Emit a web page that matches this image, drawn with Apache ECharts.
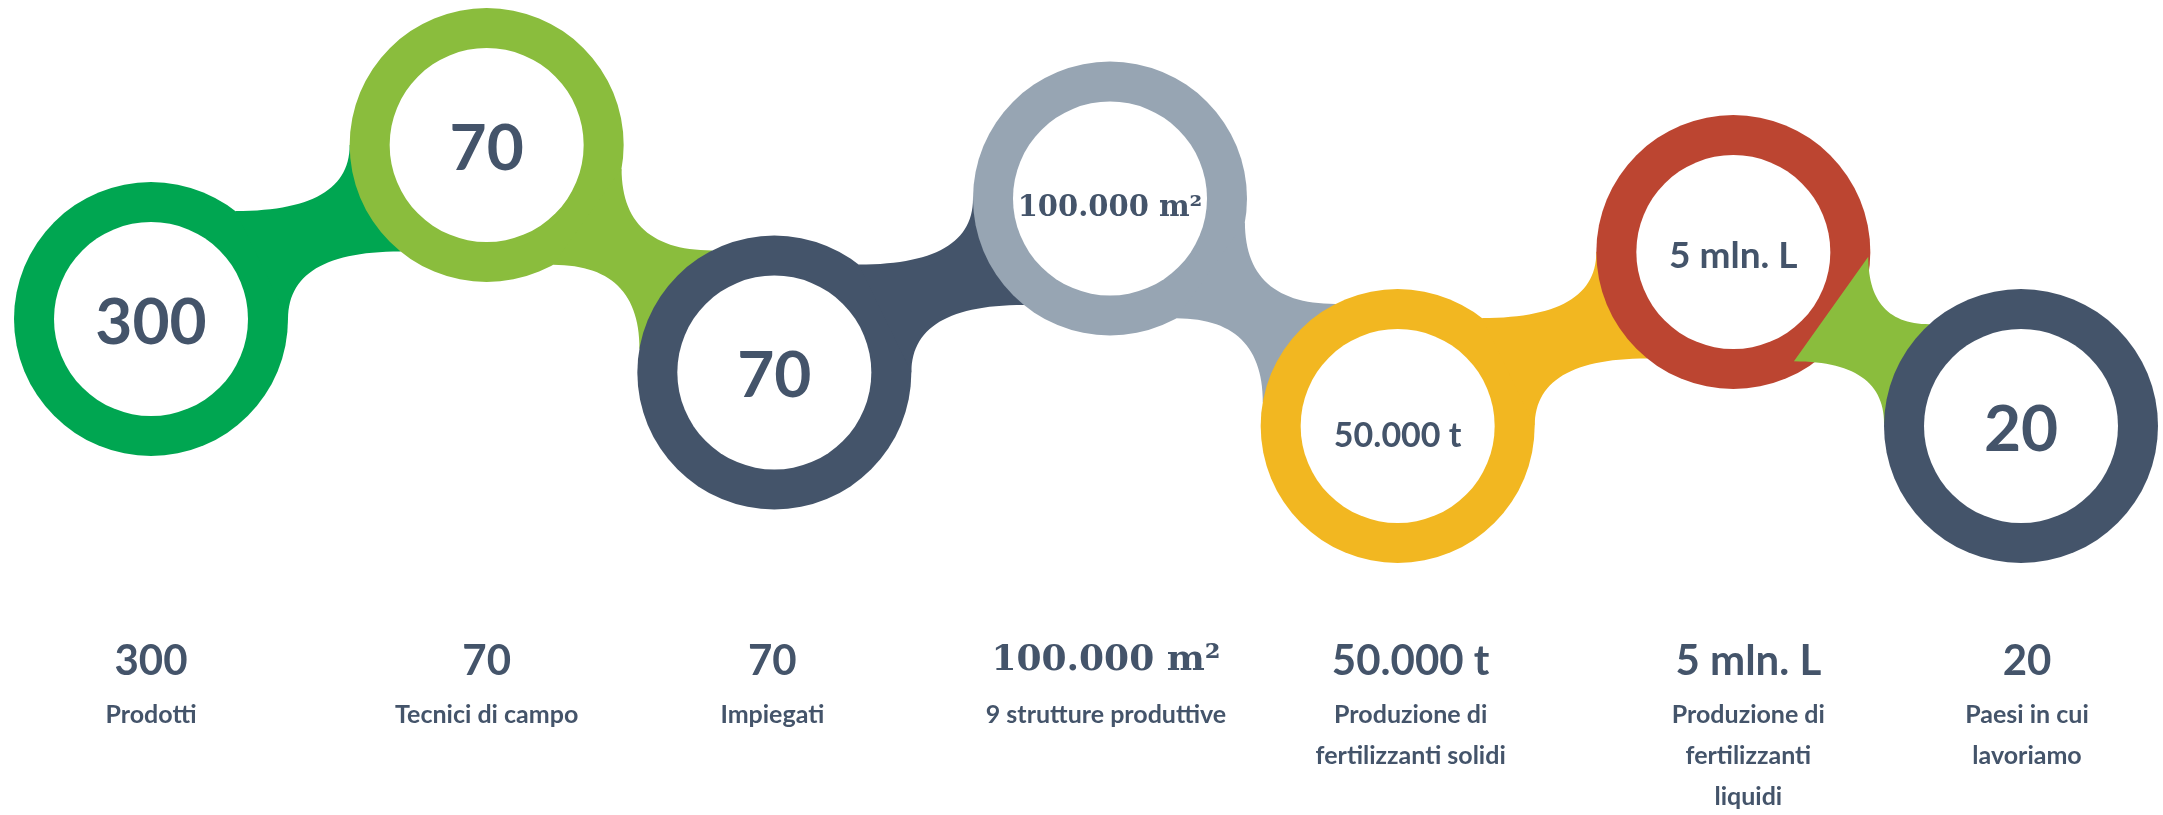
<!DOCTYPE html>
<html>
<head>
<meta charset="utf-8">
<script src="https://cdn.jsdelivr.net/npm/echarts@6/dist/echarts.min.js"></script>
<style>
  html, body { margin: 0; padding: 0; background: #fff; }
  #main { width: 2163px; height: 815px; }
</style>
</head>
<body>
<div id="main"></div>
<script>
// dati
var valueLabels = ['300', '70', '70', '100.000 m²', '50.000 t', '5 mln. L', '20'];
var descriptions = [
    'Prodotti',
    'Tecnici di campo',
    'Impiegati',
    '9 strutture produttive',
    'Produzione di\nfertilizzanti solidi',
    'Produzione di\nfertilizzanti\nliquidi',
    'Paesi in cui\nlavoriamo'
];

// stile
var ringColors = ['#00a651', '#8abd3d', '#44546a', '#97a5b3', '#f2b721', '#bc4531', '#44546a'];
var linkColors = ['#00a651', '#8abd3d', '#44546a', '#97a5b3', '#f2b721', '#8abd3d'];
var innerSize = [64, 64, 64, 29, 34, 37, 64];
var labelShift = [0, 0, -2, -4, 13, 15, 6];
var textColor = '#44546a';
var R = 137, r0 = 97;

function center(api, i) {
    var p = api.coord([i, 0]);
    var up = i % 2 === 1;
    var k = up ? (i - 1) / 2 : i / 2;
    return [p[0] + (up ? 24 : 0), (up ? 145 : 319) + 53.5 * Math.min(k, 2)];
}
function pt(c, deg, rad) {
    var a = deg * Math.PI / 180;
    return [c[0] + Math.cos(a) * rad, c[1] + Math.sin(a) * rad];
}
function quad(p0, c, p1, n) {
    var out = [];
    for (var t = 0; t <= n; t++) {
        var s = t / n;
        out.push([
            (1 - s) * (1 - s) * p0[0] + 2 * (1 - s) * s * c[0] + s * s * p1[0],
            (1 - s) * (1 - s) * p0[1] + 2 * (1 - s) * s * c[1] + s * s * p1[1]
        ]);
    }
    return out;
}

function renderItem(params, api) {
    var i = params.dataIndex;
    var C = center(api, i);
    var children = [];

    // collegamento col cerchio precedente
    if (i > 0) {
        var A = center(api, i - 1);
        var pts;
        if (C[1] < A[1]) {
            // sale
            var aU = pt(A, -52, R), bU = pt(C, 180, R);
            var aL = pt(A, 0, R), bL = pt(C, 129, R);
            pts = quad(aU, [bU[0], aU[1]], bU, 30)
                .concat([C])
                .concat(quad(bL, [aL[0], bL[1]], aL, 30));
        } else {
            var last = i === valueLabels.length - 1;
            var aU = pt(A, last ? 2 : 10, R - (last ? 2 : 0));
            var bU = pt(C, last ? -132 : -117, R);
            var aL = pt(A, 61, last ? 125 : R);
            var bL = pt(C, last ? 181 : 190, R);
            pts = quad(aU, [aU[0], bU[1]], bU, 30)
                .concat([C])
                .concat(quad(bL, [bL[0], aL[1]], aL, 30));
        }
        children.push({
            type: 'polygon',
            shape: { points: pts },
            style: { fill: linkColors[i - 1] }
        });
    }

    children.push({
        type: 'circle',
        shape: { cx: C[0], cy: C[1], r: R },
        style: { fill: ringColors[i] }
    });
    children.push({
        type: 'circle',
        shape: { cx: C[0], cy: C[1], r: r0 },
        style: { fill: '#fff' }
    });

    var label = valueLabels[i];
    var serif = label.indexOf('²') >= 0;
    var fam = serif ? '"DejaVu Serif"' : 'Lato';
    children.push({
        type: 'text',
        x: C[0], y: C[1] + 4 + (serif ? 6 : 0) + (i === 4 ? 6 : 0),
        style: {
            text: label,
            fill: textColor,
            font: 'bold ' + innerSize[i] + 'px ' + fam,
            align: 'center',
            verticalAlign: 'middle'
        }
    });

    // etichette in basso
    var lx = C[0] + labelShift[i];
    children.push({
        type: 'text',
        x: lx, y: 661,
        style: {
            text: label,
            fill: textColor,
            font: 'bold ' + (serif ? 36 : 42) + 'px ' + fam,
            align: 'center',
            verticalAlign: 'middle'
        }
    });
    children.push({
        type: 'text',
        x: lx, y: 694,
        style: {
            text: descriptions[i],
            fill: textColor,
            font: 'bold 25px Lato',
            lineHeight: 41,
            align: 'center',
            verticalAlign: 'top'
        }
    });

    return { type: 'group', children: children };
}

var myChart = echarts.init(document.getElementById('main'));
var option = {
    backgroundColor: '#fff',
    animation: false,
    grid: { left: 151, right: 142, top: 0, bottom: 0 },
    xAxis: { type: 'value', min: 0, max: valueLabels.length - 1, show: false },
    yAxis: { type: 'value', min: 0, max: 1, show: false },
    series: [{
        type: 'custom',
        renderItem: renderItem,
        data: valueLabels.map(function (v, i) { return [i, 0]; }),
        clip: false
    }]
};
myChart.setOption(option);
</script>
</body>
</html>
